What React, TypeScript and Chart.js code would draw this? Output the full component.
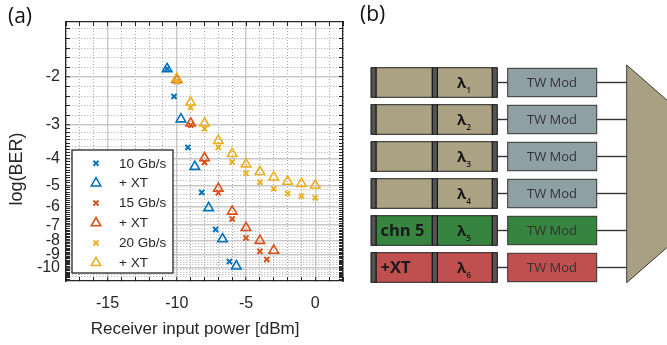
import React, { useEffect, useRef } from 'react';
import { Chart, registerables } from 'chart.js';
import { drawPoint } from 'chart.js/helpers';

Chart.register(...registerables);

// ---------- data: log10(BER) vs receiver input power [dBm] ----------
const power10G = [-10.7, -10.2, -9.2, -8.2, -7.2, -6.2];
const logBer10G = [-1.87, -2.36, -3.63, -5.31, -7.26, -9.52];
const power10GXT = [-10.7, -9.7, -8.7, -7.7, -6.7, -5.7];
const logBer10GXT = [-1.87, -2.86, -4.27, -6.05, -7.87, -9.9];
const power15G = [-10, -9, -8, -7, -6, -5, -4, -3.5];
const logBer15G = [-2.08, -3.01, -4.12, -5.33, -6.64, -7.8, -8.73, -9.35];
const power15GXT = [-10, -9, -8, -7, -6, -5, -4, -3];
const logBer15GXT = [-2.05, -2.96, -3.97, -5.14, -6.23, -7.16, -7.98, -8.67];
const power20G = [-10, -9, -8, -7, -6, -5, -4, -3, -2, -1, 0];
const logBer20G = [-2.08, -2.59, -3.1, -3.63, -4.11, -4.52, -4.87, -5.15, -5.36, -5.48, -5.56];
const power20GXT = [-10, -9, -8, -7, -6, -5, -4, -3, -2, -1, 0];
const logBer20GXT = [-2.03, -2.48, -2.96, -3.43, -3.83, -4.18, -4.46, -4.67, -4.84, -4.93, -5.0];

const seriesLabels = ['10 Gb/s', '+ XT', '15 Gb/s', '+ XT', '20 Gb/s', '+ XT'];
const seriesColors = ['#0072BD', '#0072BD', '#D95319', '#D95319', '#EDB120', '#EDB120'];
const seriesMarkers = ['crossRot', 'triangle', 'crossRot', 'triangle', 'crossRot', 'triangle'];
const seriesPower = [power10G, power10GXT, power15G, power15GXT, power20G, power20GXT];
const seriesLogBer = [logBer10G, logBer10GXT, logBer15G, logBer15GXT, logBer20G, logBer20GXT];

// axis ticks
const xMajorTicks = [-15, -10, -5, 0];
const xMin = -18;
const xMax = 2;
const yMajorTicks = [-2, -3, -4, -5, -6, -7, -8, -9, -10];
const yTopT = 0.1; // log10(-log10 BER) at top
const yBottomT = 1.05; // at bottom

// panel (b)
const laserNames = ['', '', '', '', 'chn 5', '+XT'];
const lambdaSubs = ['1', '2', '3', '4', '5', '6'];
const laserColors = ['#aba284', '#aba284', '#aba284', '#aba284', '#378440', '#c05050'];
const modColors = ['#8fa0a3', '#8fa0a3', '#8fa0a3', '#8fa0a3', '#378440', '#c05050'];
const modLabel = 'TW Mod';

// ---------- helpers ----------
const toAxis = (logBer: number) => -Math.log10(-logBer);

type TickInfo = { v: number; kind: 'major' | 'minor' | 'tick'; label: string };

const buildYTicks = (): TickInfo[] => {
  const out: TickInfo[] = [];
  yMajorTicks.forEach((L) => out.push({ v: toAxis(L), kind: 'major', label: String(L) }));
  const t3 = Math.log10(3);
  const t2 = Math.log10(2);
  const step = (t3 - t2) / 5;
  for (let k = 1; k <= 12; k++) {
    if (k === 5) continue;
    const t = t3 - k * step;
    if (t < yTopT) break;
    out.push({ v: -t, kind: 'minor', label: '' });
  }
  for (let i = 31; i <= 120; i++) {
    if (i % 10 === 0) continue;
    const t = Math.log10(i / 10);
    if (t > yBottomT) break;
    out.push({ v: -t, kind: i % 2 === 0 ? 'minor' : 'tick', label: '' });
  }
  out.sort((a, b) => a.v - b.v);
  return out;
};

const buildXTicks = (): TickInfo[] => {
  const out: TickInfo[] = [];
  for (let v = xMin; v <= xMax; v++) {
    const major = xMajorTicks.includes(v);
    out.push({ v, kind: major ? 'major' : 'minor', label: major ? String(v) : '' });
  }
  return out;
};

const yTicks = buildYTicks();
const xTicks = buildXTicks();

const FONT = "'Liberation Sans', Arial, Helvetica, sans-serif";
const TEXT = '#262626';

const gridColor = (list: TickInfo[]) => (c: any) => {
  const k = list[c.index]?.kind;
  if (k === 'major') return '#c8c8c8';
  if (k === 'minor') return '#a9a9a9';
  return 'rgba(0,0,0,0)';
};
const gridWidth = (list: TickInfo[]) => (c: any) => (list[c.index]?.kind === 'major' ? 1.4 : 1);
const gridDash = (list: TickInfo[]) => (c: any) =>
  c && c.type === 'tick' && list[c.index]?.kind !== 'major' ? [1, 2] : [];

const legendBoxPlugin = {
  id: 'legendBox',
  afterDraw(chart: any) {
    const { ctx, chartArea } = chart;
    const left = chartArea.left + 6;
    const top = chartArea.top + 128;
    const w = 101;
    const h = 123;
    ctx.save();
    ctx.fillStyle = '#ffffff';
    ctx.fillRect(left, top, w, h);
    ctx.lineWidth = 1.3;
    ctx.strokeStyle = TEXT;
    ctx.strokeRect(left, top, w, h);
    chart.data.datasets.forEach((ds: any, i: number) => {
      const cy = top + 13.3 + i * 19.9;
      const cx = left + 24;
      ctx.strokeStyle = ds.borderColor;
      ctx.fillStyle = 'rgba(0,0,0,0)';
      ctx.lineWidth = ds.borderWidth;
      ctx.setLineDash([]);
      drawPoint(ctx, { pointStyle: ds.pointStyle, radius: ds.pointRadius, rotation: 0, borderWidth: ds.borderWidth }, cx, cy);
      ctx.fillStyle = TEXT;
      ctx.font = `13.5px ${FONT}`;
      ctx.textBaseline = 'middle';
      ctx.textAlign = 'left';
      ctx.fillText(ds.label, left + 47, cy + 0.5);
    });
    ctx.restore();
  },
};

function BerChart() {
  const ref = useRef<HTMLCanvasElement | null>(null);
  useEffect(() => {
    if (!ref.current) return;
    const datasets = seriesLabels.map((label, i) => {
      const isTri = seriesMarkers[i] === 'triangle';
      return {
        label,
        data: seriesPower[i].map((p, j) => ({ x: p, y: toAxis(seriesLogBer[i][j]) })),
        showLine: false,
        pointStyle: seriesMarkers[i],
        pointRadius: isTri ? 5.5 : 3.6,
        borderWidth: isTri ? 1.6 : 2,
        borderColor: seriesColors[i],
        backgroundColor: 'rgba(0,0,0,0)',
        pointBackgroundColor: 'rgba(0,0,0,0)',
        order: seriesLabels.length - 1 - i,
        xAxisID: 'x',
        yAxisID: 'y',
      };
    });
    const chart = new Chart(ref.current, {
      type: 'scatter',
      data: { datasets },
      plugins: [legendBoxPlugin],
      options: {
        animation: false,
        responsive: false,
        events: [],
        layout: { padding: { left: 0, top: 22, right: 12, bottom: 0 } },
        plugins: { legend: { display: false }, tooltip: { enabled: false } },
        scales: {
          x: {
            type: 'linear',
            position: 'bottom',
            min: xMin,
            max: xMax,
            afterBuildTicks: (s: any) => {
              s.ticks = xTicks.map((t) => ({ value: t.v }));
            },
            afterFit: (s: any) => {
              s.height = 64;
            },
            ticks: {
              autoSkip: false,
              maxRotation: 0,
              minRotation: 0,
              padding: 17,
              color: TEXT,
              font: { family: FONT, size: 16 },
              callback: (_v: any, i: number) => xTicks[i]?.label ?? '',
            },
            grid: {
              color: gridColor(xTicks),
              lineWidth: gridWidth(xTicks),
              tickColor: TEXT,
              tickLength: -4,
              tickWidth: 1,
            },
            border: { color: TEXT, width: 1.3, dash: gridDash(xTicks) },
            title: {
              display: true,
              text: 'Receiver input power [dBm]    ',
              color: TEXT,
              font: { family: FONT, size: 17 },
              padding: { top: 0, bottom: 5 },
            },
          },
          xTop: {
            type: 'linear',
            position: 'top',
            min: xMin,
            max: xMax,
            afterBuildTicks: (s: any) => {
              s.ticks = xTicks.map((t) => ({ value: t.v }));
            },
            afterFit: (s: any) => {
              s.height = 0;
            },
            ticks: { display: false, autoSkip: false },
            grid: { drawOnChartArea: false, tickColor: TEXT, tickLength: -4, tickWidth: 1 },
            border: { color: TEXT, width: 1.3 },
          },
          y: {
            type: 'linear',
            position: 'left',
            min: -yBottomT,
            max: -yTopT,
            afterBuildTicks: (s: any) => {
              s.ticks = yTicks.map((t) => ({ value: t.v }));
            },
            afterFit: (s: any) => {
              s.width = 66;
            },
            ticks: {
              autoSkip: false,
              padding: 10,
              color: TEXT,
              font: { family: FONT, size: 16 },
              callback: (_v: any, i: number) => yTicks[i]?.label ?? '',
            },
            grid: {
              color: gridColor(yTicks),
              lineWidth: gridWidth(yTicks),
              tickColor: TEXT,
              tickLength: -4,
              tickWidth: 1,
            },
            border: { color: TEXT, width: 1.3, dash: gridDash(yTicks) },
            title: {
              display: true,
              text: 'log(BER)       ',
              color: TEXT,
              font: { family: FONT, size: 18 },
              padding: { top: 6, bottom: 0 },
            },
          },
          yRight: {
            type: 'linear',
            position: 'right',
            min: -yBottomT,
            max: -yTopT,
            afterBuildTicks: (s: any) => {
              s.ticks = yTicks.map((t) => ({ value: t.v }));
            },
            afterFit: (s: any) => {
              s.width = 0;
            },
            ticks: { display: false, autoSkip: false },
            grid: { drawOnChartArea: false, tickColor: TEXT, tickLength: -4, tickWidth: 1 },
            border: { color: TEXT, width: 1.3 },
          },
        },
      } as any,
    });
    return () => chart.destroy();
  }, []);
  return <canvas ref={ref} width={360} height={345} style={{ display: 'block', width: 360, height: 345 }} />;
}

function Diagram() {
  const rowTop0 = 67.7;
  const pitch = 37;
  const rowH = 29.6;
  const sans = "'Open Sans', 'Noto Sans', sans-serif";
  return (
    <svg
      width={667}
      height={345}
      viewBox="0 0 667 345"
      style={{ position: 'absolute', left: 0, top: 0, pointerEvents: 'none' }}
    >
      <text x={8} y={23} fontFamily={sans} fontSize={21} fill="#111">(a)</text>
      <text x={360} y={21} fontFamily={sans} fontSize={21} fill="#111">(b)</text>
      <polygon
        points="626.7,65 700,129 700,218.7 626.7,282.7"
        fill="#a9a084"
        stroke="#3a3a3a"
        strokeWidth={1}
      />
      {laserNames.map((name, i) => {
        const y = rowTop0 + i * pitch;
        const cy = y + rowH / 2;
        return (
          <g key={i}>
            <line x1={497} x2={508} y1={cy} y2={cy} stroke="#333" strokeWidth={1.4} />
            <line x1={596.7} x2={626.7} y1={cy} y2={cy} stroke="#333" strokeWidth={1.4} />
            <rect x={376} y={y} width={56.3} height={rowH} fill={laserColors[i]} stroke="#222" strokeWidth={1} />
            <rect x={437.3} y={y} width={55} height={rowH} fill={laserColors[i]} stroke="#222" strokeWidth={1} />
            <rect x={371} y={y} width={5} height={rowH} fill="#555" stroke="#111" strokeWidth={1} />
            <rect x={432.3} y={y} width={5} height={rowH} fill="#555" stroke="#111" strokeWidth={1} />
            <rect x={492.3} y={y} width={5} height={rowH} fill="#555" stroke="#111" strokeWidth={1} />
            <rect x={507.7} y={y + 0.6} width={89} height={rowH - 1.2} fill={modColors[i]} stroke="#333" strokeWidth={1} />
            {name ? (
              <text x={380.5} y={cy + 5.5} fontFamily={sans} fontWeight={700} fontSize={16.5} fill="#1a1a1a">
                {name}
              </text>
            ) : null}
            <text x={464} y={cy + 5} textAnchor="middle" fontFamily={sans} fontWeight={700} fontSize={15} fill="#1a1a1a">
              λ
              <tspan fontSize={8.5} dy={5.5} fontWeight={600}>{lambdaSubs[i]}</tspan>
            </text>
            <text x={552} y={cy + 4.6} textAnchor="middle" fontFamily={sans} fontSize={13} fill="#333">
              {modLabel}
            </text>
          </g>
        );
      })}
    </svg>
  );
}

export default function App() {
  return (
    <div style={{ position: 'absolute', left: 0, top: 0, width: 667, height: 345, background: '#fff', overflow: 'hidden' }}>
      <div style={{ position: 'absolute', left: 0, top: 0, width: 360, height: 345 }}>
        <BerChart />
      </div>
      <Diagram />
    </div>
  );
}
